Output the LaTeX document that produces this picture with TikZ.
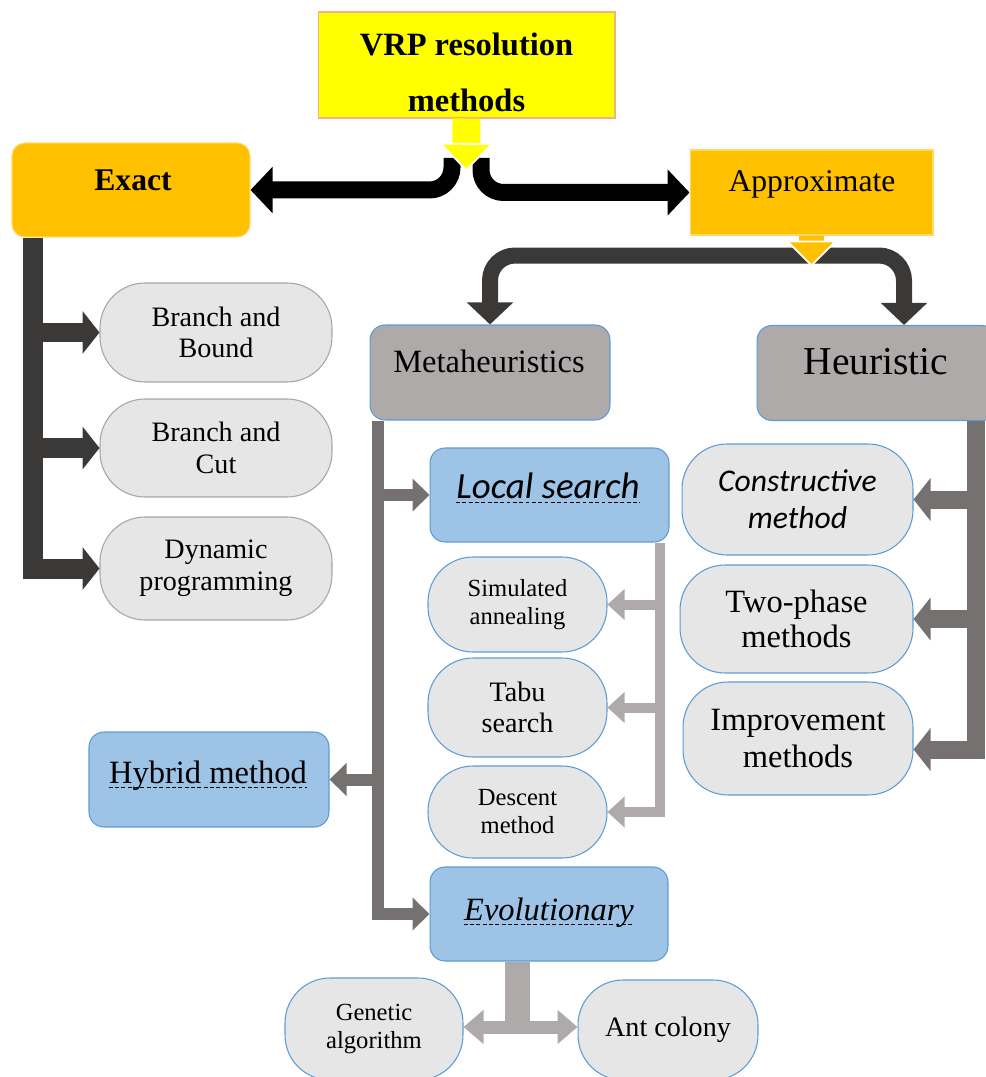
\documentclass[tikz,border=0pt]{standalone}
\usepackage{fontspec}
\setmainfont{Liberation Serif}
\newfontfamily\calib{Carlito}
\usetikzlibrary{arrows.meta}

\definecolor{vrpfill}{HTML}{FFFF00}
\definecolor{vrpline}{HTML}{F4B183}
\definecolor{orgfill}{HTML}{FFC000}
\definecolor{orgline}{HTML}{FFD966}
\definecolor{grayfill}{HTML}{AEAAAA}
\definecolor{bluefill}{HTML}{9DC3E6}
\definecolor{blueline}{HTML}{5B9BD5}
\definecolor{pillfill}{HTML}{E7E6E6}
\definecolor{pillline}{HTML}{A5A5A5}
\definecolor{darkbar}{HTML}{3B3838}
\definecolor{midbar}{HTML}{767171}
\definecolor{lightbar}{HTML}{AEAAAA}

\newcommand{\fs}[2]{\fontsize{#1}{#2}\selectfont}

\begin{document}
\begin{tikzpicture}[x=0.02cm, y=-0.02cm,
  vrpbox/.style={draw=vrpline, fill=vrpfill, line width=0.6pt, inner sep=0pt, minimum width=5.94cm, minimum height=2.12cm},
  orgbox/.style={draw=orgline, fill=orgfill, line width=0.6pt, inner sep=0pt},
  graybox/.style={draw=blueline, fill=grayfill, line width=0.6pt, rounded corners=0.3cm, inner sep=0pt, minimum width=4.8cm, minimum height=1.9cm},
  bluebox/.style={draw=blueline, fill=bluefill, line width=0.6pt, rounded corners=0.3cm, inner sep=0pt, minimum width=4.78cm, minimum height=1.88cm},
  pill/.style={draw=#1, fill=pillfill, line width=0.6pt, rounded corners=0.9cm, inner sep=0pt, align=center},
  pill/.default=blueline,
  undash/.style={dashed, dash pattern=on 2.2pt off 1.4pt, line width=0.5pt},
  exbar/.style={darkbar, line width=0.4cm, -{Triangle[length=0.34cm, width=0.84cm]}},
  heurbar/.style={midbar, line width=0.36cm, -{Triangle[length=0.34cm, width=0.84cm]}},
  metabar/.style={midbar, line width=0.24cm, -{Triangle[length=0.34cm, width=0.64cm]}},
  lsbar/.style={lightbar, line width=0.2cm, -{Triangle[length=0.34cm, width=0.6cm]}},
  evobar/.style={lightbar, line width=0.26cm, -{Triangle[length=0.4cm, width=0.66cm]}},
  topbar/.style={darkbar, line width=0.32cm, rounded corners=0.5cm, -{Triangle[length=0.44cm, width=0.9cm]}},
  brace/.style={black, line width=0.34cm, rounded corners=0.45cm, -{Triangle[length=0.44cm, width=0.9cm]}}]

\useasboundingbox (0,0) rectangle (985,1077);

% top level
\node[vrpbox] (vrp) at (466.5,65) {};
\node[align=center, font=\bfseries\fs{18.5}{32}] (vrptxt) at (466.5,72) {VRP resolution\\methods};
\node[orgbox, rounded corners=0.26cm, minimum width=4.76cm, minimum height=1.88cm] (exact) at (131,190) {};
\node[anchor=base, font=\bfseries\fs{18}{20}] (exacttxt) at (133,191) {Exact};
\node[orgbox, minimum width=4.86cm, minimum height=1.7cm] (apx) at (811.5,192.5) {};
\node[anchor=base, font=\fs{18}{20}] (apxtxt) at (812,192) {Approximate};

% exact methods
\node[pill=pillline, minimum width=4.64cm, minimum height=1.98cm, font=\fs{16}{18}] (bnb) at (216,332.5) {Branch and\\Bound};
\node[pill=pillline, minimum width=4.64cm, minimum height=1.96cm, font=\fs{16}{18}] (bnc) at (216,448) {Branch and\\Cut};
\node[pill=pillline, minimum width=4.64cm, minimum height=2.06cm, font=\fs{16}{18}] (dyn) at (216,568.5) {Dynamic\\programming};

% approximate methods
\node[graybox] (meta) at (490,372.5) {};
\node[anchor=base, font=\fs{18.5}{20}] (metatxt) at (489,373) {Metaheuristics};
\node[graybox] (heur) at (877,373) {};
\node[anchor=base, font=\fs{22.5}{24}] (heurtxt) at (876,375) {Heuristic};

% metaheuristics
\node[bluebox] (ls) at (549.5,495) {};
\node[anchor=base, inner sep=0pt, font=\calib\itshape\fs{21}{24}] (lstxt) at (548,498) {Local search};
\draw[undash] ([yshift=-2.5pt]lstxt.base west) -- ([yshift=-2.5pt]lstxt.base east);
\node[pill, minimum width=3.58cm, minimum height=1.9cm, font=\fs{14}{16}] (sim) at (517.5,604.5) {Simulated\\annealing};
\node[pill, minimum width=3.58cm, minimum height=1.98cm, font=\fs{16}{18}] (tabu) at (517.5,707.5) {Tabu\\search};
\node[pill, minimum width=3.58cm, minimum height=1.84cm, font=\fs{14}{16}] (desc) at (517.5,812) {Descent\\method};
\node[bluebox, minimum width=4.8cm, minimum height=1.9cm] (hyb) at (209,779.5) {};
\node[anchor=base, inner sep=0pt, font=\fs{18.5}{22}] (hybtxt) at (208,783) {Hybrid method};
\draw[undash] ([yshift=-2.5pt]hybtxt.base west) -- ([yshift=-2.5pt]hybtxt.base east);
\node[bluebox, minimum width=4.76cm] (evo) at (549,914) {};
\node[anchor=base, inner sep=0pt, font=\itshape\fs{18.5}{22}] (evotxt) at (549,920) {Evolutionary};
\draw[undash] ([yshift=-2.5pt]evotxt.base west) -- ([yshift=-2.5pt]evotxt.base east);
\node[pill, minimum width=3.56cm, minimum height=2.04cm, font=\fs{14}{16}] (gen) at (374,1029) {Genetic\\algorithm};
\node[pill, minimum width=3.6cm, minimum height=2cm, font=\fs{16}{18}] (ant) at (668,1030) {Ant colony};

% heuristics
\node[pill, minimum width=4.62cm, minimum height=2.22cm, font=\calib\itshape\fs{18}{21}] (con) at (797.5,499.5) {Constructive\\method};
\node[pill, minimum width=4.66cm, minimum height=2.16cm, font=\fs{18.5}{20}] (two) at (796.5,619) {Two-phase\\methods};
\node[pill, minimum width=4.6cm, minimum height=2.26cm, font=\fs{18.5}{21}] (imp) at (798,738.5) {Improvement\\methods};

% split arrows under the title
\coordinate (vrptip) at (466,171);
\coordinate (bracel) at (452,158);
\coordinate (bracer) at (481,158);
\draw[brace] (bracel) |- (exact.east);
\draw[brace] (bracer) |- (apx.west);
\draw[vrpfill, line width=0.56cm, -{Triangle[length=0.56cm, width=1.1cm, fill=vrpfill, color=white, line width=1pt]}] (vrp.south) -- (vrptip);

% approximate split
\coordinate (apxtip) at ([yshift=-0.62cm]apx.south);
\coordinate (topbar) at ([yshift=-0.4cm]apx.south);
\draw[topbar] (topbar) -| (meta.north);
\draw[topbar] (topbar) -| ([xshift=0.54cm]heur.north);
\draw[orgfill, line width=0.5cm, -{Triangle[length=0.52cm, width=1.04cm, fill=orgfill, color=white, line width=1pt]}] (apx.south) -- (apxtip);

% exact bar
\coordinate (exroot) at ([xshift=0.44cm]exact.south west);
\draw[exbar] (exroot) |- (dyn.west);
\draw[exbar] (exroot |- bnb.west) -- (bnb.west);
\draw[exbar] (exroot |- bnc.west) -- (bnc.west);

% metaheuristics bar
\coordinate (metaroot) at ([xshift=0.16cm]meta.south west);
\draw[metabar] (metaroot) |- (evo.west);
\draw[metabar] (metaroot |- ls.west) -- (ls.west);
\draw[metabar] (metaroot |- hyb.east) -- (hyb.east);

% local search bar
\coordinate (lsroot) at ([xshift=-0.2cm]ls.south east);
\draw[lsbar] (lsroot) |- (desc.east);
\draw[lsbar] (lsroot |- sim.east) -- (sim.east);
\draw[lsbar] (lsroot |- tabu.east) -- (tabu.east);

% heuristic bar
\coordinate (heurroot) at ([xshift=-0.44cm]heur.south east);
\draw[heurbar] (heurroot) |- ([yshift=-0.22cm]imp.east);
\draw[heurbar] (heurroot |- con.east) -- (con.east);
\draw[heurbar] (heurroot |- two.east) -- (two.east);

% evolutionary bar
\coordinate (evoroot) at ([xshift=-0.64cm]evo.south);
\coordinate (evofork) at ([yshift=0.04cm]evoroot |- gen.east);
\draw[evobar, -, line width=0.5cm] (evoroot) -- ([yshift=-0.13cm]evofork);
\draw[evobar] (evofork) -- (gen.east |- evofork);
\draw[evobar] (evofork) -- (ant.west |- evofork);

\end{tikzpicture}
\end{document}
